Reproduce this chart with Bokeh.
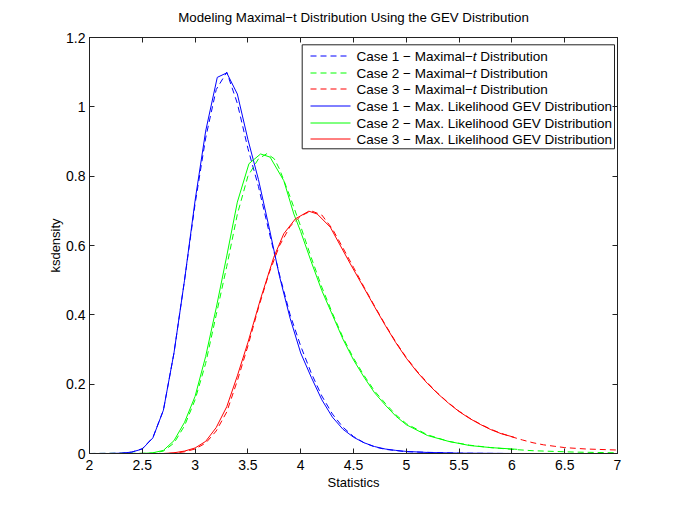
from bokeh.plotting import figure
from bokeh.models import (Range1d, LinearAxis, FixedTicker, Label, BoxAnnotation,
                          CustomLabelingPolicy)
from bokeh.embed import file_html
from bokeh.resources import INLINE

# ---------------- data ----------------
x_ticks = [2, 2.5, 3, 3.5, 4, 4.5, 5, 5.5, 6, 6.5, 7]
x_tick_labels = ["2", "2.5", "3", "3.5", "4", "4.5", "5", "5.5", "6", "6.5", "7"]
y_ticks = [0, 0.2, 0.4, 0.6, 0.8, 1.0, 1.2]
y_tick_labels = ["0", "0.2", "0.4", "0.6", "0.8", "1", "1.2"]

# Case 1 - Maximal-t (dashed, blue)
case1_t_x = [2.0, 2.3, 2.4, 2.5, 2.6, 2.7, 2.8, 2.9, 3.0, 3.1, 3.2, 3.3, 3.4, 3.5, 3.6, 3.7,
             3.8, 3.9, 4.0, 4.1, 4.2, 4.3, 4.4, 4.5, 4.6, 4.7, 4.8, 5.0, 5.5, 6.0, 7.0]
case1_t_y = [0, 0.001, 0.004, 0.014, 0.046, 0.125, 0.29, 0.50, 0.72, 0.91, 1.05, 1.10, 1.01,
             0.88, 0.77, 0.64, 0.515, 0.40, 0.31, 0.232, 0.166, 0.114, 0.076, 0.049, 0.031,
             0.019, 0.012, 0.005, 0.001, 0, 0]
# Case 2 - Maximal-t (dashed, green)
case2_t_x = [2.0, 2.6, 2.7, 2.8, 2.9, 3.0, 3.1, 3.2, 3.3, 3.4, 3.5, 3.6, 3.68, 3.75, 3.8, 3.9,
             4.0, 4.1, 4.2, 4.3, 4.4, 4.5, 4.6, 4.7, 4.8, 4.9, 5.0, 5.2, 5.4, 5.6, 5.8, 6.0,
             6.2, 6.4, 6.6, 6.8, 7.0]
case2_t_y = [0, 0.001, 0.007, 0.03, 0.08, 0.155, 0.26, 0.40, 0.54, 0.69, 0.80, 0.85, 0.865,
             0.85, 0.82, 0.74, 0.655, 0.565, 0.48, 0.405, 0.335, 0.275, 0.225, 0.18, 0.145,
             0.112, 0.086, 0.054, 0.035, 0.024, 0.017, 0.012, 0.008, 0.006, 0.004, 0.003, 0.002]
# Case 3 - Maximal-t (dashed, red)
case3_t_x = [2.0, 2.7, 2.8, 2.9, 3.0, 3.1, 3.2, 3.3, 3.4, 3.5, 3.6, 3.7, 3.8, 3.9, 4.0, 4.1,
             4.2, 4.3, 4.4, 4.5, 4.6, 4.7, 4.8, 4.9, 5.0, 5.1, 5.2, 5.3, 5.4, 5.5, 5.6, 5.7,
             5.8, 5.9, 6.0, 6.1, 6.2, 6.3, 6.4, 6.5, 6.6, 6.7, 6.8, 6.9, 7.0]
case3_t_y = [0, 0, 0.001, 0.005, 0.013, 0.03, 0.065, 0.12, 0.21, 0.31, 0.42, 0.52, 0.60,
             0.655, 0.685, 0.70, 0.688, 0.648, 0.593, 0.537, 0.48, 0.425, 0.372, 0.322, 0.277,
             0.238, 0.204, 0.173, 0.146, 0.122, 0.102, 0.085, 0.07, 0.058, 0.048, 0.039,
             0.031, 0.025, 0.021, 0.017, 0.015, 0.013, 0.012, 0.011, 0.010]

# Case 1 - Max. likelihood GEV (solid, blue)
case1_gev_x = [2.0, 2.2, 2.3, 2.4, 2.5, 2.6, 2.7, 2.8, 2.9, 3.0, 3.1, 3.21, 3.3, 3.4, 3.5, 3.6,
               3.7, 3.8, 3.9, 4.0, 4.1, 4.2, 4.3, 4.4, 4.5, 4.6, 4.7, 4.8, 4.9, 5.0, 5.2, 5.5,
               6.0, 7.0]
case1_gev_y = [0, 0, 0.001, 0.004, 0.013, 0.045, 0.125, 0.29, 0.50, 0.73, 0.93, 1.085, 1.098,
               1.037, 0.906, 0.79, 0.653, 0.51, 0.39, 0.29, 0.22, 0.155, 0.105, 0.07, 0.047,
               0.031, 0.02, 0.013, 0.009, 0.006, 0.003, 0.001, 0, 0]
# Case 2 - Max. likelihood GEV (solid, green)
case2_gev_x = [2.0, 2.5, 2.6, 2.7, 2.8, 2.9, 3.0, 3.1, 3.2, 3.3, 3.4, 3.51, 3.62, 3.71, 3.84,
               3.935, 4.0, 4.1, 4.2, 4.3, 4.4, 4.5, 4.6, 4.7, 4.8, 4.9, 5.0, 5.2, 5.4, 5.6,
               5.8, 6.05]
case2_gev_y = [0, 0, 0.002, 0.009, 0.037, 0.09, 0.165, 0.28, 0.42, 0.57, 0.725, 0.836, 0.864,
               0.855, 0.787, 0.691, 0.64, 0.553, 0.47, 0.40, 0.33, 0.27, 0.22, 0.175, 0.14,
               0.108, 0.083, 0.052, 0.035, 0.023, 0.017, 0.012]
# Case 3 - Max. likelihood GEV (solid, red)
case3_gev_x = [2.0, 2.7, 2.8, 2.9, 3.0, 3.1, 3.2, 3.3, 3.4, 3.5, 3.62, 3.745, 3.84, 3.95,
               4.077, 4.156, 4.28, 4.47, 4.63, 4.7, 4.8, 4.9, 5.0, 5.1, 5.2, 5.3, 5.4, 5.5,
               5.6, 5.7, 5.8, 5.9, 6.02]
case3_gev_y = [0, 0, 0.002, 0.007, 0.016, 0.035, 0.075, 0.135, 0.224, 0.32, 0.446, 0.566,
               0.634, 0.677, 0.699, 0.691, 0.653, 0.547, 0.461, 0.423, 0.37, 0.32, 0.275,
               0.236, 0.202, 0.172, 0.145, 0.121, 0.101, 0.084, 0.069, 0.057, 0.047]

series_labels = [
    ("Case 1 − Maximal−", "t", " Distribution"),
    ("Case 2 − Maximal−", "t", " Distribution"),
    ("Case 3 − Maximal−", "t", " Distribution"),
    ("Case 1 − Max. Likelihood GEV Distribution", "", ""),
    ("Case 2 − Max. Likelihood GEV Distribution", "", ""),
    ("Case 3 − Max. Likelihood GEV Distribution", "", ""),
]
title_text = "Modeling Maximal−t Distribution Using the GEV Distribution"
x_label = "Statistics"
y_label = "ksdensity"

BLUE, GREEN, RED = "#0000ff", "#00ff00", "#ff0000"
DASH = "6 4"
FONT = "Liberation Sans"

# ---------------- layout ----------------
FW, FH = 528, 416          # frame size in px
X0, X1, Y0, Y1 = 2, 7, 0, 1.2
W, H = 684, 508
ML, MT = 89, 37

p = figure(width=W, height=H, output_backend="svg", toolbar_location=None,
           x_range=Range1d(X0, X1), y_range=Range1d(Y0, Y1),
           min_border_left=ML, min_border_right=W - ML - FW,
           min_border_top=MT, min_border_bottom=H - MT - FH)
p.title.text = title_text
p.title.text_font = FONT
p.title.text_font_size = "13.3px"
p.title.text_font_style = "normal"
p.title.text_color = "black"
p.title.align = "center"
p.title.standoff = 0
p.grid.visible = False
p.background_fill_color = "white"
p.border_fill_color = "white"
p.outline_line_color = "#222222"

AX = "#222222"
def style_axis(ax, ticks, labels, show_labels=True):
    ax.ticker = FixedTicker(ticks=ticks)
    ax.major_label_overrides = {t: l for t, l in zip(ticks, labels)}
    ax.major_tick_in = 5
    ax.major_tick_out = 0
    ax.minor_tick_line_color = None
    ax.axis_line_color = AX
    ax.major_tick_line_color = AX
    ax.major_label_text_font = FONT
    ax.major_label_text_color = "black"
    ax.major_label_text_font_size = "14px"
    if not show_labels:
        ax.major_label_policy = CustomLabelingPolicy(code="return new Set()")
        ax.major_label_standoff = 0

style_axis(p.xaxis[0], x_ticks, x_tick_labels)
style_axis(p.yaxis[0], y_ticks, y_tick_labels)
p.xaxis[0].major_label_standoff = 6
p.yaxis[0].major_label_standoff = 4
for ax, lab in ((p.xaxis[0], x_label), (p.yaxis[0], y_label)):
    ax.axis_label = lab
    ax.axis_label_text_font = FONT
    ax.axis_label_text_font_size = "13px"
    ax.axis_label_text_font_style = "normal"
    ax.axis_label_text_color = "black"
p.xaxis[0].axis_label_standoff = 2
p.yaxis[0].axis_label_standoff = 0

top_ax = LinearAxis()
style_axis(top_ax, x_ticks, x_tick_labels, show_labels=False)
p.add_layout(top_ax, "above")
right_ax = LinearAxis()
style_axis(right_ax, y_ticks, y_tick_labels, show_labels=False)
p.add_layout(right_ax, "right")

# ---------------- curves ----------------
p.line(case1_t_x, case1_t_y, line_color=BLUE, line_width=1, line_dash=DASH)
p.line(case2_t_x, case2_t_y, line_color=GREEN, line_width=1, line_dash=DASH)
p.line(case3_t_x, case3_t_y, line_color=RED, line_width=1, line_dash=DASH)
p.line(case1_gev_x, case1_gev_y, line_color=BLUE, line_width=1)
p.line(case2_gev_x, case2_gev_y, line_color=GREEN, line_width=1)
p.line(case3_gev_x, case3_gev_y, line_color=RED, line_width=1)

# ---------------- helpers for legend placement (frame px -> data) ----------------
def fx(px):
    return X0 + px / FW * (X1 - X0)

def fy(py):
    return Y1 - py / FH * (Y1 - Y0)

AW = {" ": 278, ".": 278, "−": 584, "0": 556, "1": 556, "2": 556, "3": 556,
      "C": 722, "D": 722, "E": 667, "G": 778, "L": 556, "M": 833, "U": 722, "V": 667,
      "a": 556, "b": 556, "d": 556, "e": 556, "g": 556, "h": 556, "i": 222, "k": 500,
      "l": 222, "m": 833, "n": 556, "o": 556, "r": 333, "s": 500, "t": 278, "u": 556,
      "x": 500, "y": 500}

def tw(s, size):
    return sum(AW.get(c, 556) for c in s) * size / 1000.0

def add_parts(parts, x_px, y_px, size):
    """x_px from frame left, y_px from frame top."""
    x = x_px
    for i, s in enumerate(parts):
        if not s:
            continue
        lead = len(s) - len(s.lstrip(" "))
        x += tw(" " * lead, size)
        s2 = s.lstrip(" ")
        p.add_layout(Label(x=fx(x), y=fy(y_px), text=s2, text_font=FONT,
                           text_font_size=f"{size}px",
                           text_font_style="italic" if i == 1 else "normal",
                           text_color="black", text_align="left", text_baseline="middle"))
        x += tw(s2, size)

# legend
p.add_layout(BoxAnnotation(left=fx(212.7), right=fx(525), top=fy(7.3), bottom=fy(111.3),
                           fill_color="white", fill_alpha=1.0, line_color="#222222",
                           line_width=1, line_alpha=1.0, level="underlay"))
row_y = [18.5, 35.5, 51.5, 68.5, 85.5, 101.5]
styles = [(BLUE, DASH), (GREEN, DASH), (RED, DASH), (BLUE, "solid"), (GREEN, "solid"),
          (RED, "solid")]
LS = 13.5
for (col, dash), ry, parts in zip(styles, row_y, series_labels):
    p.segment(x0=[fx(221)], y0=[fy(ry)], x1=[fx(261)], y1=[fy(ry)],
              line_color=col, line_width=1, line_dash=dash)
    add_parts(parts, 267, ry, LS)

open("out.html", "w").write(file_html(p, INLINE))
